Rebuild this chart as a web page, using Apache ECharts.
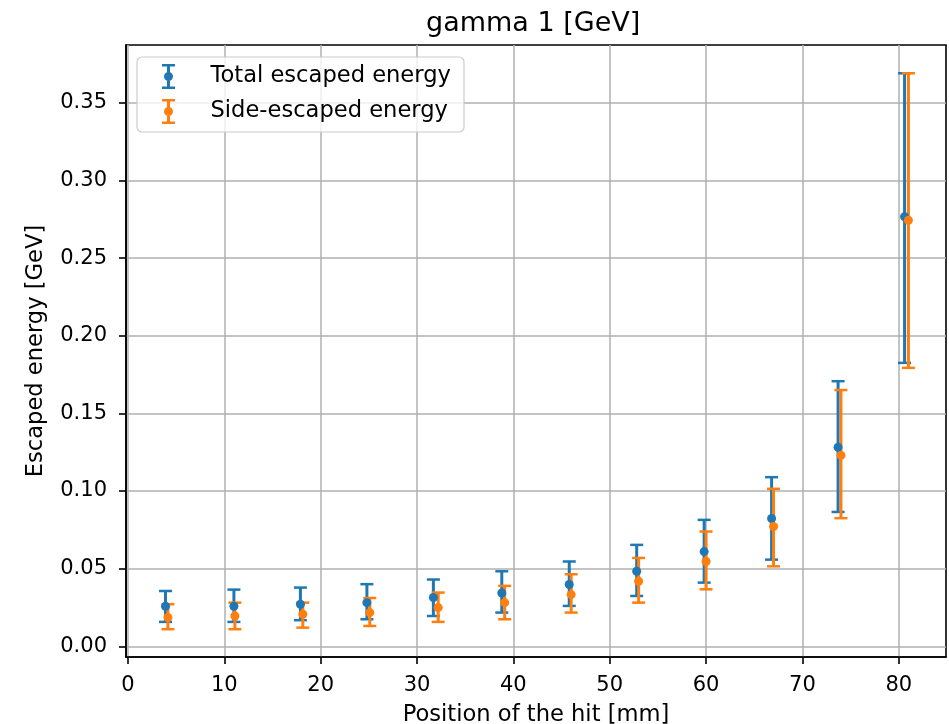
<!DOCTYPE html>
<html>
<head>
<meta charset="utf-8">
<script src="https://cdn.jsdelivr.net/npm/echarts@6/dist/echarts.min.js"></script>
<style>
  html, body { margin: 0; padding: 0; background: #fff; }
  #chart { width: 949px; height: 724px; }
</style>
</head>
<body>
<div id="chart"></div>
<script>
// tick labels
var xTicks = [0, 10, 20, 30, 40, 50, 60, 70, 80];
var yTicks = [0, 0.05, 0.1, 0.15, 0.2, 0.25, 0.3, 0.35];

// Total escaped energy (blue)
var totalX = [3.9, 11.0, 17.9, 24.8, 31.7, 38.8, 45.8, 52.8, 59.8, 66.8, 73.7, 80.6];
var totalY = [0.0258, 0.0258, 0.0271, 0.0281, 0.0314, 0.0343, 0.0398, 0.0483, 0.061, 0.0823, 0.1282, 0.2766];
var totalLo = [0.0157, 0.0157, 0.0168, 0.0174, 0.0195, 0.0217, 0.026, 0.0324, 0.041, 0.0558, 0.0865, 0.1825];
var totalHi = [0.0356, 0.0365, 0.0378, 0.040, 0.043, 0.0483, 0.0546, 0.0653, 0.0814, 0.1089, 0.1707, 0.369];

// Side-escaped energy (orange)
var sideX = [4.15, 11.1, 18.15, 25.1, 32.2, 39.1, 46.0, 53.0, 60.0, 67.0, 74.0, 81.0];
var sideY = [0.0185, 0.0195, 0.0206, 0.0217, 0.0249, 0.0281, 0.0333, 0.0419, 0.0546, 0.0771, 0.1229, 0.2743];
var sideLo = [0.011, 0.011, 0.012, 0.0131, 0.0157, 0.0174, 0.0217, 0.0281, 0.0367, 0.0515, 0.0825, 0.1793];
var sideHi = [0.0271, 0.0281, 0.0281, 0.0311, 0.0346, 0.0389, 0.0464, 0.0569, 0.0739, 0.1014, 0.165, 0.369];

var BLUE = "#1f77b4";
var ORANGE = "#ff7f0e";
var FONT = "DejaVu Sans";

// errorbar-ish legend icon: I-beam with a dot
var errIcon = "path://M0,0H13V2.5H8V22.5H13V25H0V22.5H5V2.5H0Z" +
  "M11,12.5A4.5,4.5 0 1 1 2,12.5A4.5,4.5 0 1 1 11,12.5Z";

function bars(xs, lo, hi) {
  return xs.map(function (x, i) { return [x, lo[i], hi[i]]; });
}
function points(xs, ys) {
  return xs.map(function (x, i) { return [x, ys[i]]; });
}

function errorBars(color) {
  return function (params, api) {
    var x = api.value(0);
    var a = api.coord([x, api.value(1)]);
    var b = api.coord([x, api.value(2)]);
    var hw = 6.5;
    var s = { stroke: color, lineWidth: 3, fill: null };
    var c = { stroke: color, lineWidth: 2.5, fill: null };
    return {
      type: "group",
      children: [
        { type: "line", shape: { x1: a[0], y1: a[1], x2: b[0], y2: b[1] }, style: s },
        { type: "line", shape: { x1: a[0] - hw, y1: a[1], x2: a[0] + hw, y2: a[1] }, style: c },
        { type: "line", shape: { x1: b[0] - hw, y1: b[1], x2: b[0] + hw, y2: b[1] }, style: c }
      ]
    };
  };
}

var chart = echarts.init(document.getElementById("chart"));

var axisCommon = {
  type: "value",
  nameLocation: "middle",
  nameTextStyle: { fontFamily: FONT, fontSize: 22.6, color: "#000" },
  axisLine: { show: true, onZero: false, lineStyle: { color: "#000", width: 1.6 } },
  axisTick: { show: true, inside: false, length: 7, lineStyle: { color: "#000", width: 1.6 } },
  splitLine: { show: true, lineStyle: { color: "#b0b0b0", width: 1.5 } },
  axisLabel: { fontFamily: FONT, fontSize: 21, color: "#000" }
};

chart.setOption({
  animation: false,
  title: {
    text: "gamma 1 [GeV]",
    left: 426,
    top: 10,
    padding: 0,
    textStyle: { fontFamily: FONT, fontSize: 27, fontWeight: "normal", color: "#000" }
  },
  grid: {
    left: 126, right: 3, top: 45, bottom: 67,
    outerBoundsMode: "none",
    containLabel: false,
    show: true, borderColor: "#000", borderWidth: 1.6, backgroundColor: "#fff"
  },
  graphic: [{
    type: "rect",
    z: 50,
    shape: { x: 137, y: 57, width: 327, height: 75, r: 5 },
    style: { fill: "rgba(255,255,255,0.8)", stroke: "#cccccc", lineWidth: 1.2 }
  }],
  legend: {
    orient: "vertical",
    left: 162,
    top: 64,
    padding: 0,
    z: 60,
    itemWidth: 74,
    itemHeight: 25,
    itemGap: 10,
    selectedMode: false,
    textStyle: { fontFamily: FONT, fontSize: 22.6, color: "#000" },
    data: [
      { name: "Total escaped energy", icon: errIcon, itemStyle: { color: BLUE } },
      { name: "Side-escaped energy", icon: errIcon, itemStyle: { color: ORANGE } }
    ]
  },
  xAxis: Object.assign({}, axisCommon, {
    min: -0.2,
    max: 84.9,
    minInterval: 10,
    maxInterval: 10,
    name: "Position of the hit [mm]",
    nameGap: 47,
    axisTick: Object.assign({}, axisCommon.axisTick, { customValues: xTicks }),
    axisLabel: Object.assign({}, axisCommon.axisLabel, { margin: 18, customValues: xTicks })
  }),
  yAxis: Object.assign({}, axisCommon, {
    min: -0.0069,
    max: 0.3872,
    minInterval: 0.05,
    maxInterval: 0.05,
    name: "Escaped energy [GeV]",
    nameGap: 78,
    axisTick: Object.assign({}, axisCommon.axisTick, { customValues: yTicks }),
    axisLabel: Object.assign({}, axisCommon.axisLabel, {
      margin: 19,
      customValues: yTicks,
      formatter: function (v) { return v.toFixed(2); }
    })
  }),
  series: [
    {
      name: "Total escaped energy",
      type: "custom",
      renderItem: errorBars(BLUE),
      itemStyle: { color: BLUE },
      encode: { x: 0, y: [1, 2] },
      data: bars(totalX, totalLo, totalHi)
    },
    {
      name: "Total escaped energy",
      type: "scatter",
      symbol: "circle",
      symbolSize: 9,
      itemStyle: { color: BLUE, opacity: 1 },
      data: points(totalX, totalY)
    },
    {
      name: "Side-escaped energy",
      type: "custom",
      renderItem: errorBars(ORANGE),
      itemStyle: { color: ORANGE },
      encode: { x: 0, y: [1, 2] },
      data: bars(sideX, sideLo, sideHi)
    },
    {
      name: "Side-escaped energy",
      type: "scatter",
      symbol: "circle",
      symbolSize: 9,
      itemStyle: { color: ORANGE, opacity: 1 },
      data: points(sideX, sideY)
    }
  ]
});
</script>
</body>
</html>
